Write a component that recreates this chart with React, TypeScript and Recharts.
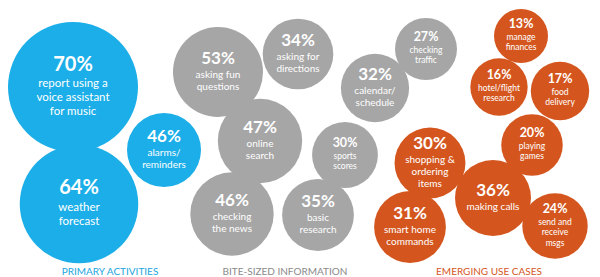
import { ScatterChart, Scatter, XAxis, YAxis, ZAxis } from 'recharts';

// group captions under each cluster
const groupNames = ['PRIMARY ACTIVITIES', 'BITE-SIZED INFORMATION', 'EMERGING USE CASES'];
const groupCenters = [110, 285, 489];
const groupColors = ['#1BA6DE', '#8A8A8A', '#D4561E'];

// primary activities
const primaryValues = [70, 64, 46];
const primaryTopics = ['report using a\nvoice assistant\nfor music', 'weather\nforecast', 'alarms/\nreminders'];
const primaryX = [73, 79, 164];
const primaryY = [87, 204, 150];

// bite-sized information
const biteValues = [53, 34, 27, 32, 47, 30, 46, 35];
const biteTopics = [
  'asking fun\nquestions',
  'asking for\ndirections',
  'checking\ntraffic',
  'calendar/\nschedule',
  'online\nsearch',
  'sports\nscores',
  'checking\nthe news',
  'basic\nresearch',
];
const biteX = [218, 298, 426, 375, 260, 345, 232, 318];
const biteY = [72, 54, 49, 88, 141, 155, 214, 215];

// emerging use cases
const emergingValues = [13, 16, 17, 20, 30, 36, 31, 24];
const emergingTopics = [
  'manage\nfinances',
  'hotel/flight\nresearch',
  'food\ndelivery',
  'playing\ngames',
  'shopping &\nordering\nitems',
  'making calls',
  'smart home\ncommands',
  'send and\nreceive\nmsgs',
];
const emergingX = [521, 499, 560, 532, 430, 493, 410, 555];
const emergingY = [36, 87, 91, 145, 163, 198, 227, 226];

const FONT = 'Lato, "Open Sans", sans-serif';

const toRows = (values: number[], topics: string[], xs: number[], ys: number[]) =>
  values.map((v, i) => ({ x: xs[i], y: ys[i], z: v, topic: topics[i] }));

const primaryData = toRows(primaryValues, primaryTopics, primaryX, primaryY);
const biteData = toRows(biteValues, biteTopics, biteX, biteY);
const emergingData = toRows(emergingValues, emergingTopics, emergingX, emergingY);

const area = (r: number) => Math.PI * r * r;

function Bubble(props: any) {
  const { cx, cy, fill, payload } = props;
  const r = props.width ? props.width / 2 : Math.sqrt((props.size || 64) / Math.PI);
  let pct = 12.5, sub = 8.5, lh = 10.2;
  if (r >= 55) { pct = 20; sub = 11.5; lh = 13.8; }
  else if (r >= 33.5) { pct = 17; sub = 10; lh = 12; }
  const lines = String(payload.topic).split('\n');
  const cap = pct * 0.72;
  const gap = pct * 0.3;
  const block = cap + gap + lines.length * lh;
  const top = cy - block / 2;
  return (
    <g>
      <circle cx={cx} cy={cy} r={r} fill={fill} />
      <text x={cx} y={top + cap} textAnchor="middle" fill="#fff" fontFamily={FONT} fontWeight={700} fontSize={pct}>
        {payload.z}%
      </text>
      {lines.map((t, i) => (
        <text
          key={i}
          x={cx}
          y={top + cap + gap + (i + 0.5) * lh + sub * 0.35}
          textAnchor="middle"
          fill="#fff"
          fontFamily={FONT}
          fontSize={sub}
        >
          {t}
        </text>
      ))}
    </g>
  );
}

function GroupTick(props: any) {
  const { x, y, index } = props;
  return (
    <text x={x} y={y + 12} textAnchor="middle" fill={groupColors[index]} fontFamily={FONT} fontSize={10}>
      {groupNames[index]}
    </text>
  );
}

export default function App() {
  return (
    <div style={{ position: 'absolute', left: 0, top: 0, background: '#fff' }}>
      <ScatterChart width={600} height={277} margin={{ top: 0, right: 0, bottom: 0, left: 0 }}>
        <XAxis
          type="number"
          dataKey="x"
          domain={[0, 600]}
          ticks={groupCenters}
          interval={0}
          tick={<GroupTick />}
          axisLine={false}
          tickLine={false}
          height={22}
        />
        <YAxis type="number" dataKey="y" domain={[0, 255]} reversed hide />
        <ZAxis zAxisId="primary" type="number" dataKey="z" domain={[46, 70]} range={[area(37), area(65)]} />
        <ZAxis zAxisId="bite" type="number" dataKey="z" domain={[27, 53]} range={[area(31), area(45)]} />
        <ZAxis zAxisId="emerging" type="number" dataKey="z" domain={[13, 36]} range={[area(27), area(38)]} />
        <Scatter data={primaryData} zAxisId="primary" fill="#1BAEE8" shape={Bubble} isAnimationActive={false} />
        <Scatter data={biteData} zAxisId="bite" fill="#A6A6A6" shape={Bubble} isAnimationActive={false} />
        <Scatter data={emergingData} zAxisId="emerging" fill="#D4561E" shape={Bubble} isAnimationActive={false} />
      </ScatterChart>
    </div>
  );
}
